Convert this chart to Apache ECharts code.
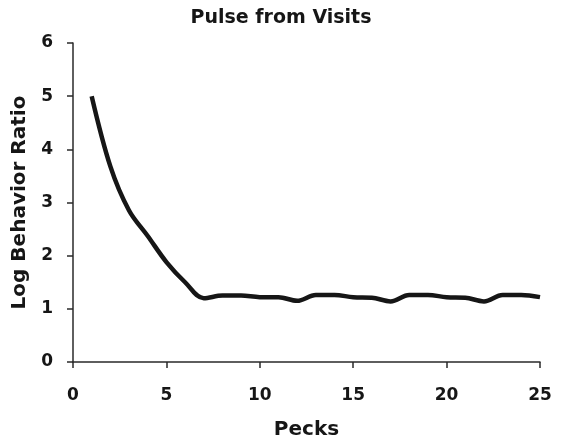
<!DOCTYPE html>
<html>
<head>
<meta charset="utf-8">
<script src="https://cdn.jsdelivr.net/npm/echarts@6/dist/echarts.min.js"></script>
<style>
  html, body { margin: 0; padding: 0; background: #fff; }
  #chart { width: 562px; height: 445px; }
</style>
</head>
<body>
<div id="chart"></div>
<script>
// pecks 1..25, values
const pecks = [1, 2, 3, 4, 5, 6, 7, 8, 9, 10, 11, 12, 13, 14, 15, 16, 17, 18, 19, 20, 21, 22, 23, 24, 25];
const logRatio = [5.0, 3.68, 2.85, 2.37, 1.88, 1.5, 1.2, 1.25, 1.25, 1.22, 1.22, 1.15, 1.26, 1.26, 1.22, 1.21, 1.14, 1.26, 1.26, 1.22, 1.21, 1.14, 1.26, 1.26, 1.22];
const xTicks = [0, 5, 10, 15, 20, 25];
const yTicks = [0, 1, 2, 3, 4, 5, 6];

const chart = echarts.init(document.getElementById('chart'));
const font = 'DejaVu Sans, sans-serif';
const ink = '#161616';

chart.setOption({
  animation: false,
  title: {
    text: 'Pulse from Visits',
    left: 'center',
    top: 4,
    textStyle: { fontFamily: font, fontSize: 19, fontWeight: 'bold', color: ink }
  },
  grid: { left: 73, right: 22, top: 43, bottom: 82 },
  xAxis: {
    type: 'value',
    min: xTicks[0],
    max: xTicks[xTicks.length - 1],
    interval: 5,
    name: 'Pecks',
    nameLocation: 'middle',
    nameGap: 58,
    nameTextStyle: { fontFamily: font, fontSize: 20, fontWeight: 'bold', color: ink },
    axisLine: { show: true, lineStyle: { color: '#2a2a2a', width: 1.5 } },
    axisTick: { show: true, length: 6, lineStyle: { color: '#2a2a2a', width: 1.5 } },
    axisLabel: { fontFamily: font, fontSize: 17, fontWeight: 'bold', color: ink, margin: 25 },
    splitLine: { show: false }
  },
  yAxis: {
    type: 'value',
    min: yTicks[0],
    max: yTicks[yTicks.length - 1],
    interval: 1,
    name: 'Log Behavior Ratio',
    nameLocation: 'middle',
    nameGap: 40,
    nameTextStyle: { fontFamily: font, fontSize: 20, fontWeight: 'bold', color: ink },
    axisLine: { show: true, lineStyle: { color: '#2a2a2a', width: 1.5 } },
    axisTick: { show: true, length: 6, lineStyle: { color: '#2a2a2a', width: 1.5 } },
    axisLabel: { fontFamily: font, fontSize: 17, fontWeight: 'bold', color: ink, margin: 20 },
    splitLine: { show: false }
  },
  series: [{
    type: 'line',
    data: pecks.map((p, i) => [p, logRatio[i]]),
    showSymbol: false,
    smooth: 0.35,
    lineStyle: { color: ink, width: 4.5 }
  }]
});
</script>
</body>
</html>
